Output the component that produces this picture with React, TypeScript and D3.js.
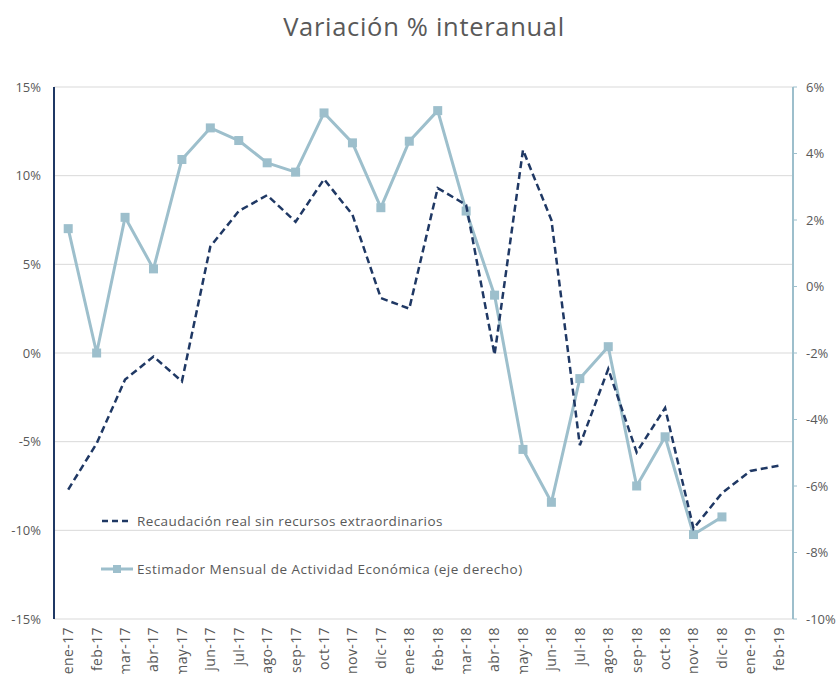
import React from "react";
import * as d3 from "d3";

const months = [
  "ene-17","feb-17","mar-17","abr-17","may-17","jun-17","jul-17","ago-17","sep-17","oct-17","nov-17","dic-17",
  "ene-18","feb-18","mar-18","abr-18","may-18","jun-18","jul-18","ago-18","sep-18","oct-18","nov-18","dic-18",
  "ene-19","feb-19",
];

// Recaudación real sin recursos extraordinarios (left axis, %)
const recaudacion = [
  -7.7, -5.1, -1.5, -0.2, -1.6, 6.0, 8.0, 8.9, 7.4, 9.8, 7.8, 3.1,
  2.5, 9.3, 8.35, -0.1, 11.45, 7.5, -5.2, -0.9, -5.6, -3.1, -9.9, -7.9,
  -6.65, -6.35,
];

// Estimador Mensual de Actividad Económica (right axis, %)
const emae: (number | null)[] = [
  1.74, -2.0, 2.08, 0.53, 3.82, 4.77, 4.39, 3.72, 3.44, 5.22, 4.32, 2.37,
  4.37, 5.29, 2.27, -0.26, -4.9, -6.49, -2.77, -1.81, -6.0, -4.52, -7.46, -6.93,
  null, null,
];

const leftTicks = [15, 10, 5, 0, -5, -10, -15];
const rightTicks = [6, 4, 2, 0, -2, -4, -6, -8, -10];

const title = "Variación % interanual";
const legendLabels = [
  "Recaudación real sin recursos extraordinarios",
  "Estimador Mensual de Actividad Económica (eje derecho)",
];

const W = 838;
const H = 674;
const M = { left: 54, right: 793, top: 87, bottom: 619 };
const FONT = "'Open Sans', Lato, sans-serif";
const TEXT = "#595959";
const NAVY = "#1f3864";
const LIGHT = "#9dbfcc";
const GRID = "#d9d9d9";

export default function App() {
  const x = d3.scaleBand<string>().domain(months).range([M.left, M.right]);
  const cx = (m: string) => (x(m) as number) + x.bandwidth() / 2;
  const yL = d3.scaleLinear().domain([-15, 15]).range([M.bottom, M.top]);
  const yR = d3.scaleLinear().domain([-10, 6]).range([M.bottom, M.top]);

  const lineL = d3
    .line<number>()
    .x((_, i) => cx(months[i]))
    .y((d) => yL(d));
  const lineR = d3
    .line<number | null>()
    .defined((d) => d !== null)
    .x((_, i) => cx(months[i]))
    .y((d) => yR(d as number));

  const leg1Y = 521;
  const leg2Y = 569;

  return (
    <svg
      width={W}
      height={H}
      style={{ position: "absolute", left: 0, top: 0, background: "#fff", display: "block" }}
      fontFamily={FONT}
    >
      <text x={424} y={36} textAnchor="middle" fontSize={25.5} fill={TEXT} letterSpacing={0.7}>
        {title}
      </text>

      {/* gridlines */}
      {leftTicks.map((t) => (
        <line key={"g" + t} x1={M.left} x2={M.right} y1={yL(t)} y2={yL(t)} stroke={GRID} strokeWidth={1} />
      ))}

      {/* left axis labels */}
      {leftTicks.map((t) => (
        <text key={"l" + t} x={41} y={yL(t)} dy="0.35em" textAnchor="end" fontSize={13} fill={TEXT}>
          {t + "%"}
        </text>
      ))}

      {/* right axis */}
      <line x1={M.right} x2={M.right} y1={M.top} y2={M.bottom} stroke={LIGHT} strokeWidth={2} />
      {rightTicks.map((t) => (
        <g key={"r" + t}>
          <line x1={M.right} x2={M.right + 4} y1={yR(t)} y2={yR(t)} stroke={LIGHT} strokeWidth={1} />
          <text x={806} y={yR(t)} dy="0.35em" textAnchor="start" fontSize={13} fill={TEXT}>
            {t + "%"}
          </text>
        </g>
      ))}

      {/* left axis line */}
      <line x1={M.left} x2={M.left} y1={M.top} y2={M.bottom} stroke={NAVY} strokeWidth={2} />

      {/* x labels */}
      {months.map((m) => (
        <text
          key={m}
          transform={`translate(${cx(m)},${627}) rotate(-90)`}
          textAnchor="end"
          dy="0.35em"
          fontSize={14}
          fill={TEXT}
          letterSpacing={0.4}
        >
          {m}
        </text>
      ))}

      {/* series */}
      <path d={lineR(emae) || ""} fill="none" stroke={LIGHT} strokeWidth={3} strokeLinejoin="round" />
      {emae.map((v, i) =>
        v === null ? null : (
          <rect key={"m" + i} x={cx(months[i]) - 4.5} y={yR(v) - 4.5} width={9} height={9} fill={LIGHT} />
        )
      )}
      <path
        d={lineL(recaudacion) || ""}
        fill="none"
        stroke={NAVY}
        strokeWidth={2.5}
        strokeDasharray="7,4"
      />

      {/* legend */}
      <line x1={102} x2={131} y1={leg1Y} y2={leg1Y} stroke={NAVY} strokeWidth={2.5} strokeDasharray="6,4" />
      <text x={137} y={leg1Y} dy="0.35em" fontSize={13.5} fill={TEXT} letterSpacing={0.4}>
        {legendLabels[0]}
      </text>
      <line x1={101} x2={133} y1={leg2Y} y2={leg2Y} stroke={LIGHT} strokeWidth={3} />
      <rect x={113} y={leg2Y - 4} width={8} height={8} fill={LIGHT} />
      <text x={137} y={leg2Y} dy="0.35em" fontSize={13.5} fill={TEXT} letterSpacing={0.5}>
        {legendLabels[1]}
      </text>
    </svg>
  );
}
